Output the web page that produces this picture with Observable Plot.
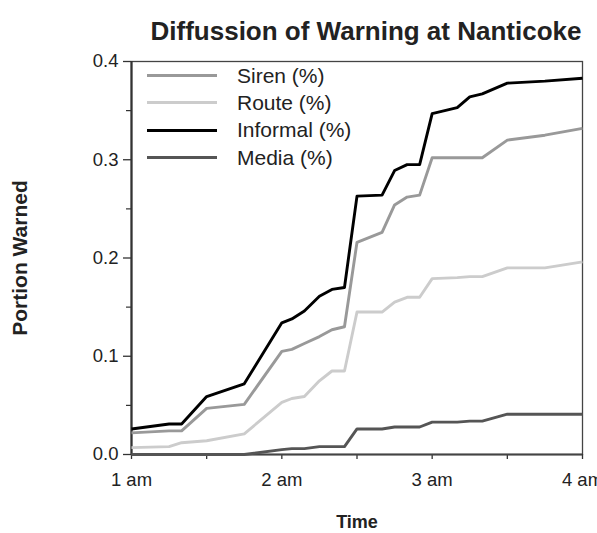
<!DOCTYPE html>
<html><head><meta charset="utf-8">
<script src="https://cdn.jsdelivr.net/npm/d3@7"></script>
<script src="https://cdn.jsdelivr.net/npm/@observablehq/plot@0.6"></script>
<style>
body{margin:0;background:#fff;font-family:"Liberation Sans",Arial,Helvetica,sans-serif}
#wrap{position:relative;width:597px;height:533px}
#legend{position:absolute;left:147px;top:62px;font-size:21px;color:#222}
.row{display:flex;align-items:center;height:27.3px}
.sw{width:70px;height:0;border-top:3px solid #000;margin-right:20px}
</style>
</head><body><div id="wrap"></div><script>
// minutes after 1 am
const minutes  = [0, 15, 20, 30, 45, 60, 64, 69, 75, 80, 85, 90, 100, 105, 110, 115, 120, 130, 135, 140, 150, 165, 180];
const siren    = [0.022, 0.024, 0.024, 0.047, 0.051, 0.105, 0.107, 0.113, 0.120, 0.127, 0.130, 0.216, 0.226, 0.254, 0.262, 0.264, 0.302, 0.302, 0.302, 0.302, 0.320, 0.325, 0.332];
const route    = [0.007, 0.008, 0.012, 0.014, 0.021, 0.053, 0.057, 0.059, 0.075, 0.085, 0.085, 0.145, 0.145, 0.155, 0.160, 0.160, 0.179, 0.180, 0.181, 0.181, 0.190, 0.190, 0.196];
const informal = [0.026, 0.031, 0.031, 0.059, 0.072, 0.134, 0.138, 0.146, 0.161, 0.168, 0.170, 0.263, 0.264, 0.289, 0.295, 0.295, 0.347, 0.353, 0.364, 0.367, 0.378, 0.380, 0.383];
const media    = [0.000, 0.000, 0.000, 0.000, 0.000, 0.005, 0.006, 0.006, 0.008, 0.008, 0.008, 0.026, 0.026, 0.028, 0.028, 0.028, 0.033, 0.033, 0.034, 0.034, 0.041, 0.041, 0.041];

const seriesNames  = ["Siren (%)", "Route (%)", "Informal (%)", "Media (%)"];
const seriesColors = ["#999999", "#cccccc", "#000000", "#555555"];
const seriesValues = [siren, route, informal, media];

const hourTicks  = [0, 60, 120, 180];
const hourLabels = ["1 am", "2 am", "3 am", "4 am"];
const halfTicks  = [0, 30, 60, 90, 120, 150, 180];
const yMajor = [0, 0.1, 0.2, 0.3, 0.4];
const yMinor = [0.05, 0.15, 0.25, 0.35];

const titleText = "Diffussion of Warning at Nanticoke";
const xTitle = "Time";
const yTitle = "Portion Warned";

const rows = [];
seriesNames.forEach((name, i) => minutes.forEach((m, j) => rows.push({series: name, t: m, v: seriesValues[i][j]})));

const chart = Plot.plot({
  width: 597, height: 533,
  marginLeft: 131, marginRight: 15, marginTop: 61, marginBottom: 79,
  style: {fontFamily: "'Liberation Sans', Arial, Helvetica, sans-serif", fontSize: "18.5px", color: "#222", background: "#fff", overflow: "visible"},
  x: {domain: [0, 180]},
  y: {domain: [0, 0.4]},
  color: {domain: seriesNames, range: seriesColors},
  marks: [
    Plot.frame({stroke: "#444", strokeWidth: 1.3}),
    Plot.axisY({ticks: yMajor, tickSize: 8, tickPadding: 5, tickFormat: d => d.toFixed(1), label: null, stroke: "#333", strokeWidth: 1.3, fill: "#222"}),
    Plot.axisY({ticks: yMinor, tickSize: 5, tickFormat: () => "", label: null, stroke: "#333", strokeWidth: 1.2}),
    Plot.axisX({ticks: halfTicks, tickSize: 5, tickPadding: 13, tickFormat: d => { const k = hourTicks.indexOf(d); return k >= 0 ? hourLabels[k] : ""; }, label: null, stroke: "#333", strokeWidth: 1.3, fill: "#222"}),
    Plot.ruleX([0], {stroke: "#333", strokeWidth: 2.2}),
    Plot.ruleY([0], {stroke: "#444", strokeWidth: 2}),
    Plot.line(rows, {x: "t", y: "v", z: "series", stroke: "series", strokeWidth: 2.9, strokeLinejoin: "round", strokeLinecap: "butt"}),
    Plot.text([titleText], {text: d => d, frameAnchor: "top", lineAnchor: "middle", textAnchor: "middle", dx: 9, dy: -30, fontSize: 26, fontWeight: "bold", fill: "#222"}),
    Plot.text([yTitle], {text: d => d, frameAnchor: "left", textAnchor: "middle", lineAnchor: "middle", dx: -111, rotate: -90, fontSize: 21, fontWeight: "bold", fill: "#222"}),
    Plot.text([xTitle], {text: d => d, frameAnchor: "bottom", textAnchor: "middle", lineAnchor: "middle", dy: 68, fontSize: 18, fontWeight: "bold", fill: "#222"})
  ]
});

const wrap = document.getElementById("wrap");
wrap.appendChild(chart);
const legend = document.createElement("div");
legend.id = "legend";
seriesNames.forEach((name, i) => {
  const row = document.createElement("div");
  row.className = "row";
  const sw = document.createElement("span");
  sw.className = "sw";
  sw.style.borderTopColor = seriesColors[i];
  const lab = document.createElement("span");
  lab.textContent = name;
  row.appendChild(sw); row.appendChild(lab);
  legend.appendChild(row);
});
wrap.appendChild(legend);
</script></body></html>
